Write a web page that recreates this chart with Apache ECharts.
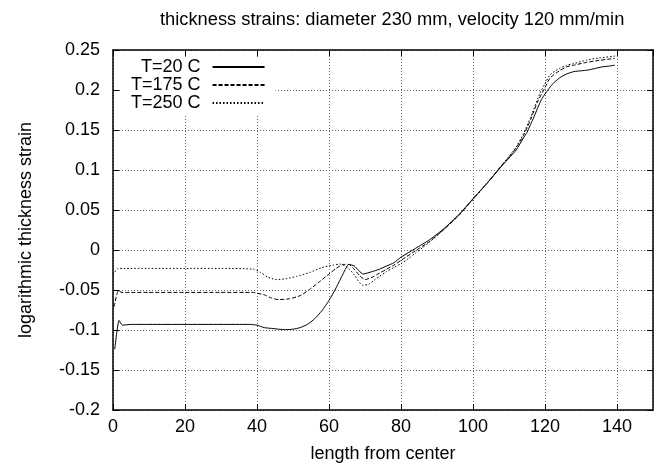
<!DOCTYPE html>
<html>
<head>
<meta charset="utf-8">
<script src="https://cdn.jsdelivr.net/npm/echarts@6/dist/echarts.min.js"></script>
<style>
  html, body { margin: 0; padding: 0; background: #fff; }
  #chart { width: 663px; height: 468px; }
</style>
</head>
<body>
<div id="chart"></div>
<script>
var seriesNames = ['T=20 C', 'T=175 C', 'T=250 C'];

var x20 = [0.5, 1.7, 2.6, 5, 10, 20, 30, 38, 40, 42, 44, 46, 48, 50, 52, 54, 56, 58, 60, 62, 64, 65.5, 67, 69.5, 72, 74, 76, 78, 80, 84, 88, 92, 96, 100, 104, 108, 110, 112, 114, 115, 116, 117, 118, 119, 120, 121, 122, 124, 126, 128, 130, 132, 134, 136, 138, 139.4];
var y20 = [-0.124, -0.088, -0.094, -0.093, -0.093, -0.093, -0.093, -0.093, -0.094, -0.097, -0.098, -0.099, -0.0995, -0.099, -0.097, -0.093, -0.086, -0.076, -0.063, -0.047, -0.029, -0.018, -0.020, -0.030, -0.027, -0.024, -0.020, -0.016, -0.009, 0.002, 0.013, 0.027, 0.044, 0.064, 0.084, 0.105, 0.115, 0.125, 0.140, 0.147, 0.157, 0.167, 0.178, 0.188, 0.195, 0.201, 0.207, 0.215, 0.220, 0.223, 0.224, 0.225, 0.227, 0.229, 0.230, 0.231];

var x175 = [0.3, 1.5, 2.5, 5, 10, 20, 30, 39, 40, 42, 44, 46, 49, 52, 54.7, 57, 60, 62, 64, 65.5, 67, 68.5, 70, 72, 74, 76, 78, 80, 84, 88, 92, 96, 100, 104, 108, 110, 112, 114, 116, 118, 120, 121.4, 124, 126, 128, 131.6, 135, 139.4];
var y175 = [-0.071, -0.051, -0.053, -0.053, -0.053, -0.053, -0.053, -0.053, -0.054, -0.056, -0.060, -0.062, -0.061, -0.057, -0.049, -0.041, -0.030, -0.023, -0.018, -0.018, -0.024, -0.032, -0.037, -0.034, -0.029, -0.024, -0.019, -0.013, -0.001, 0.011, 0.026, 0.043, 0.064, 0.084, 0.106, 0.116, 0.128, 0.143, 0.163, 0.186, 0.203, 0.215, 0.224, 0.229, 0.231, 0.2346, 0.237, 0.2395];

var x250 = [0, 1.4, 3, 10, 20, 30, 39, 41, 43, 45.5, 48, 51, 54.7, 58, 61, 63, 65, 67, 69.3, 71, 72.5, 74, 76, 78, 80, 82, 84, 86, 88, 90, 92, 96, 100, 104, 108, 110, 112, 114, 116, 118.6, 120, 121.4, 124, 126, 128, 131.6, 135, 139.4];
var y250 = [-0.031, -0.023, -0.023, -0.023, -0.023, -0.023, -0.024, -0.028, -0.034, -0.037, -0.036, -0.033, -0.028, -0.022, -0.019, -0.0175, -0.021, -0.031, -0.044, -0.043, -0.038, -0.033, -0.027, -0.022, -0.017, -0.011, -0.004, 0.003, 0.010, 0.018, 0.026, 0.043, 0.063, 0.084, 0.106, 0.117, 0.129, 0.145, 0.166, 0.196, 0.208, 0.219, 0.227, 0.231, 0.233, 0.2375, 0.240, 0.2424];

function pairs(xs, ys) {
  return xs.map(function (x, i) { return [x, ys[i]]; });
}

var chart = echarts.init(document.getElementById('chart'));
var font = 'Liberation Sans, Arial, sans-serif';

var axisCommon = {
  axisLine: { show: true, onZero: false, lineStyle: { color: '#000', width: 1.5 } },
  axisTick: { show: true, inside: true, length: 6, lineStyle: { color: '#000' } }
};

option = {
  animation: false,
  backgroundColor: '#fff',
  title: {
    text: 'thickness strains: diameter 230 mm, velocity 120 mm/min',
    left: 160,
    top: 11,
    padding: 0,
    textStyle: { fontFamily: font, fontSize: 18.3, fontWeight: 'normal', color: '#000' }
  },
  grid: { left: 113, right: 10, top: 50, bottom: 55 },
  legend: {
    orient: 'vertical',
    align: 'right',
    left: 120,
    top: 57,
    padding: [1, 10, 2, 11],
    backgroundColor: '#fff',
    itemWidth: 52,
    itemHeight: 14,
    itemGap: 0,
    selectedMode: false,
    itemStyle: { opacity: 0 },
    textStyle: { fontFamily: font, fontSize: 18, color: '#000', lineHeight: 18, padding: [0, 7, 0, 0] },
    data: seriesNames
  },
  xAxis: [
    Object.assign({
      type: 'value', min: 0, max: 150, interval: 20, position: 'bottom',
      name: 'length from center', nameLocation: 'middle', nameGap: 35,
      nameTextStyle: { fontFamily: font, fontSize: 18, color: '#000' },
      axisLabel: { fontFamily: font, fontSize: 18, color: '#000', margin: 8, showMaxLabel: false },
      splitLine: { show: true, lineStyle: { color: '#666', type: [1, 2], width: 1 } }
    }, axisCommon),
    Object.assign({
      type: 'value', min: 0, max: 150, interval: 20, position: 'top',
      axisLabel: { show: false }, splitLine: { show: false }
    }, axisCommon)
  ],
  yAxis: [
    Object.assign({
      type: 'value', min: -0.2, max: 0.25, interval: 0.05, position: 'left',
      name: 'logarithmic thickness strain', nameLocation: 'middle', nameGap: 78,
      nameTextStyle: { fontFamily: font, fontSize: 18, color: '#000' },
      axisLabel: { fontFamily: font, fontSize: 18, color: '#000', margin: 13 },
      splitLine: { show: true, lineStyle: { color: '#666', type: [1, 2], width: 1 } }
    }, axisCommon),
    Object.assign({
      type: 'value', min: -0.2, max: 0.25, interval: 0.05, position: 'right',
      axisLabel: { show: false }, splitLine: { show: false }
    }, axisCommon)
  ],
  series: [
    {
      name: seriesNames[0], type: 'line', symbol: 'none', smooth: 0.2,
      lineStyle: { color: '#000', width: 1, type: 'solid' },
      itemStyle: { color: '#000' },
      data: pairs(x20, y20)
    },
    {
      name: seriesNames[1], type: 'line', symbol: 'none', smooth: 0.2,
      lineStyle: { color: '#000', width: 1, type: [4, 2] },
      itemStyle: { color: '#000' },
      data: pairs(x175, y175)
    },
    {
      name: seriesNames[2], type: 'line', symbol: 'none', smooth: 0.2,
      lineStyle: { color: '#000', width: 1, type: [1.5, 2] },
      itemStyle: { color: '#000' },
      data: pairs(x250, y250)
    }
  ]
};
chart.setOption(option);
</script>
</body>
</html>
